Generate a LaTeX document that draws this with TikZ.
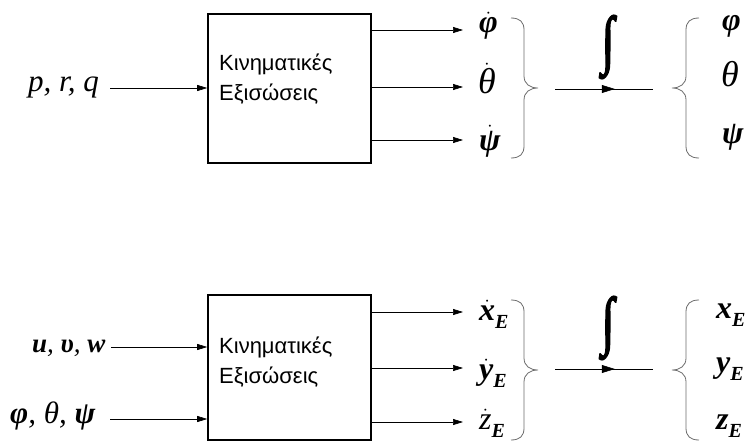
\documentclass[tikz,border=0pt]{standalone}
\usepackage{fontspec}
\usepackage{amsmath}
\usepackage{graphicx}
\setmainfont{Liberation Serif}
\newfontfamily\boxfont{Liberation Sans}
\newfontfamily\intfont[FakeBold=3]{Liberation Serif}
\usetikzlibrary{arrows.meta,decorations.markings}
\newcommand\dotsym[1]{$\dot{\text{#1}}$}
\newcommand\bi[1]{\textbf{\textit{#1}}}
\newcommand\gth{{\fontsize{36}{36}\selectfont θ}}
\newcommand\subE{\raisebox{-8pt}{\fontsize{20}{20}\selectfont\bi{E}}}
\newcommand\intsym{\scalebox{1}[1.4]{∫}}
\begin{document}
\begin{tikzpicture}[x=1pt,y=-1pt,
  blk/.style={draw,line width=1.6pt,inner sep=0pt},
  arr/.style={-{Triangle[length=10pt,width=6pt]},line width=0.6pt},
  lbl/.style={font=\fontsize{32}{32}\selectfont\itshape,inner sep=0pt,anchor=base west},
  txt/.style={font=\boxfont\fontsize{22}{30}\selectfont,align=left,inner sep=0pt,anchor=west},
  brc/.style={draw=gray!85!black,line width=0.8pt},
  intg/.style={inner sep=0pt,font=\intfont\fontsize{46}{46}\selectfont},
  pics/rbrace/.style={code={
    \draw[brc] (-27,-70) .. controls (-18,-70) and (-14,-66) .. (-14,-58) -- (-14,-12)
      .. controls (-14,-4) and (-8,0) .. (0,0)
      .. controls (-8,0) and (-14,4) .. (-14,12) -- (-14,58)
      .. controls (-14,66) and (-18,70) .. (-27,70);}},
  mid/.style={line width=0.6pt,decoration={markings,
      mark=at position 0.61 with {\arrow{Triangle[length=13pt,width=8pt]}}},postaction={decorate}}
]
\useasboundingbox (0,0) rectangle (752,441);

% ---------- top ----------
\node[blk,minimum width=163pt,minimum height=149pt] (box1) at (289.5,88.5) {};
\node[txt] (t1) at (219,79) {Κινηματικές\\Εξισώσεις};
\node[lbl,font=\fontsize{31}{31}\selectfont\itshape] (in1) at (28,92) {p, r, q};
\coordinate (s1) at (110,88);
\draw[arr] (s1) -- (s1 -| box1.west);

\coordinate (e1) at (463,30);
\coordinate (e2) at (463,87);
\coordinate (e3) at (463,140);
\draw[arr] (box1.east |- e1) -- (e1);
\draw[arr] (box1.east |- e2) -- (e2);
\draw[arr] (box1.east |- e3) -- (e3);
\node[lbl] (d1) at (479,33) {\bi{\dotsym{φ}}};
\node[lbl] (d2) at (478,94) {\dotsym{\gth}};
\node[lbl] (d3) at (479,150) {\bi{\dotsym{ψ}}};

\pic at (538,88) {rbrace};
\pic[xscale=-1] at (672,88) {rbrace};
\coordinate (m1a) at (555,89);
\coordinate (m1b) at (653,89);
\draw[mid] (m1a) -- (m1b);
\node[intg] (int1) at (608,47) {\intsym};

\node[lbl] (o1) at (722,31) {\bi{φ}};
\node[lbl] (o2) at (721,87) {\gth};
\node[lbl] (o3) at (722,143) {\bi{ψ}};

% ---------- bottom ----------
\node[blk,minimum width=163pt,minimum height=145pt] (box2) at (289.5,367.5) {};
\node[txt] (t2) at (219,362) {Κινηματικές\\Εξισώσεις};
\node[lbl,font=\fontsize{27}{28}\selectfont\itshape] (in2) at (32,352) {\bi{u}, \bi{υ}, \bi{w}};
\node[lbl,font=\fontsize{31}{31}\selectfont\itshape] (in3) at (10,423) {\bi{φ}, θ, \bi{ψ}};
\coordinate (s2) at (111,347);
\coordinate (s3) at (110,419);
\draw[arr] (s2) -- (s2 -| box2.west);
\draw[arr] (s3) -- (s3 -| box2.west);

\coordinate (e4) at (463,312);
\coordinate (e5) at (463,368);
\coordinate (e6) at (463,422);
\draw[arr] (box2.east |- e4) -- (e4);
\draw[arr] (box2.east |- e5) -- (e5);
\draw[arr] (box2.east |- e6) -- (e6);
\node[lbl] (d4) at (479,320) {\bi{\dotsym{x}}\subE};
\node[lbl] (d5) at (479,379) {\bi{\dotsym{y}}\subE};
\node[lbl] (d6) at (479,429) {\dotsym{z}\subE};

\pic at (538,370) {rbrace};
\pic[xscale=-1] at (672,370) {rbrace};
\coordinate (m2a) at (555,369);
\coordinate (m2b) at (653,369);
\draw[mid] (m2a) -- (m2b);
\node[intg] (int2) at (608,328) {\intsym};

\node[lbl] (o4) at (716,318) {\bi{x}\subE};
\node[lbl] (o5) at (716,372) {\bi{y}\subE};
\node[lbl] (o6) at (716,429) {\bi{z}\subE};
\end{tikzpicture}
\end{document}
